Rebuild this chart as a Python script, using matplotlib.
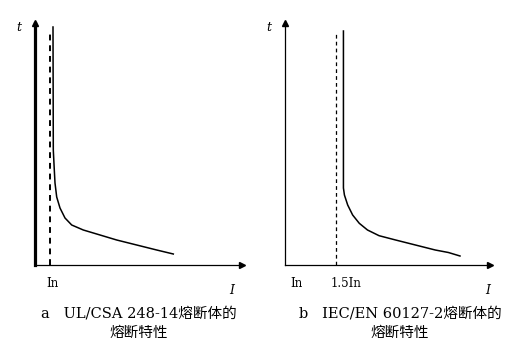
import matplotlib.pyplot as plt

# curve points, units = distance from origin along each axis
left_cur = [18, 18.3, 19.3, 20, 21.7, 25, 30, 36.7, 48.3, 61.7, 81.7, 101.7, 121.7, 138.3]
left_time = [238, 115, 95, 82, 68, 57, 47, 40, 35, 31, 25, 20, 15, 11]
left_dash = 15

right_cur = [59, 59, 60, 63.3, 68.3, 75, 83.3, 95, 111.7, 131.7, 151.7, 165, 176.7]
right_time = [234, 77, 70, 60, 50, 41.7, 35, 29.3, 25, 20, 15, 12.5, 9]
right_dash = 52

captions = ["a   UL/CSA 248-14熔断体的\n熔断特性", "b   IEC/EN 60127-2熔断体的\n熔断特性"]
fonts = ['DejaVu Serif', 'Noto Sans CJK SC']

fig = plt.figure(figsize=(5.18, 3.53), dpi=100)


def panel(rect, cur, time, dash, yw, dw, dash_top, xlabels, i_x, caption, cap_xy):
    ax = fig.add_axes(rect)
    ax.set_xlim(0, 207)
    ax.set_ylim(0, 242)
    for s in ['top', 'right']:
        ax.spines[s].set_visible(False)
    ax.spines['left'].set_linewidth(yw)
    ax.spines['bottom'].set_linewidth(0.9)
    ax.set_xticks([])
    ax.set_yticks([])
    # arrow heads
    ax.plot(1, 0, '>k', ms=4, transform=ax.transAxes, clip_on=False)
    ax.plot(0, 1, '^k', ms=4, transform=ax.transAxes, clip_on=False)
    ax.plot([dash, dash], [0, dash_top], 'k--', lw=dw, dashes=(3, 2.5))
    ax.plot(cur, time, 'k-', lw=1.1)
    ax.text(-0.08, 0.98, 't', transform=ax.transAxes, style='italic',
            fontsize=9, family=fonts, ha='center', va='center')
    ax.text(i_x, -0.105, 'I', transform=ax.transAxes, style='italic',
            fontsize=9, family=fonts, ha='center', va='center')
    for x, lab in xlabels:
        ax.text(x, -0.075, lab, transform=ax.get_xaxis_transform(),
                fontsize=8.5, family=fonts, ha='center', va='center')
    fig.text(cap_xy[0], cap_xy[1], caption, fontsize=10.5, family=fonts,
             ha='center', va='center', linespacing=1.5, multialignment='center')


panel([35 / 518, 88 / 353, 207 / 518, 242 / 353], left_cur, left_time, left_dash, 2.3, 1.4, 235,
      [(17, 'In')], 0.95, captions[0], (139 / 518, 1 - 323 / 353))
panel([285 / 518, 88 / 353, 205 / 518, 242 / 353], right_cur, right_time, right_dash, 0.9, 0.9, 232,
      [(12, 'In'), (62, '1.5In')], 0.99, captions[1], (400 / 518, 1 - 323 / 353))

fig.savefig('out.png', dpi=100)
